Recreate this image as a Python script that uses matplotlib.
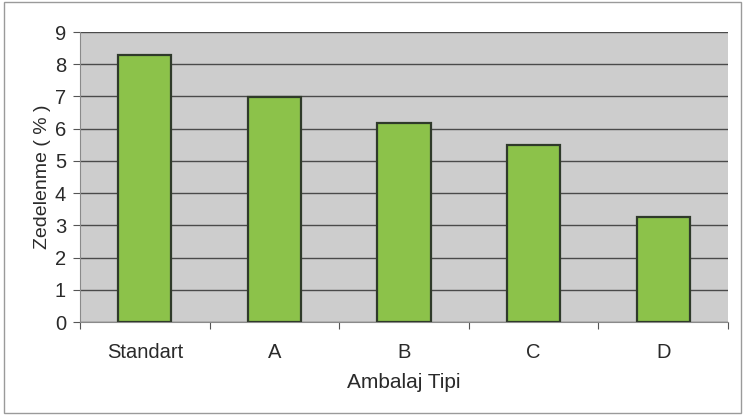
import matplotlib.pyplot as plt
import numpy as np
from matplotlib.patches import Rectangle

plt.rcParams['font.family'] = ['Liberation Sans', 'DejaVu Sans']

categories = ['Standart', 'A', 'B', 'C', 'D']
damage = [8.28, 6.98, 6.18, 5.5, 3.25]

fig = plt.figure(figsize=(7.44, 4.19), dpi=100)
ax = fig.add_axes([0.1075, 0.2315, 0.871, 0.692])

x = np.arange(len(categories))
ax.bar(x, damage, width=0.41, color='#8cc24a', edgecolor='#2f3a2a', linewidth=1.6, zorder=3)

ax.set_facecolor('#cdcdcd')
ax.set_xlim(-0.5, len(categories) - 0.5)
ax.set_ylim(0, 9)
ax.set_yticks(range(0, 10))
ax.yaxis.grid(True, color='#4a4a4a', linewidth=1.0, zorder=1)
ax.set_axisbelow(True)

# category ticks sit between the bars
ax.set_xticks(np.arange(-0.5, len(categories), 1.0))
ax.set_xticklabels([])
ax.set_xticks(x, minor=True)
ax.set_xticklabels(categories, minor=True, fontsize=14.5, color='#2a2a2a')
ax.tick_params(axis='x', which='minor', length=0, pad=15)
ax.tick_params(axis='x', which='major', length=5, color='#555555', direction='out')
ax.tick_params(axis='y', length=5, color='#555555', direction='out', labelsize=14.5,
               labelcolor='#2a2a2a', pad=5)

for side in ['top', 'right']:
    ax.spines[side].set_visible(False)
ax.spines['left'].set_color('#8a8a8a')
ax.spines['bottom'].set_color('#8a8a8a')

ax.set_ylabel('Zedelenme ( % )', fontsize=14, color='#2a2a2a', labelpad=3)
ax.set_xlabel('Ambalaj Tipi', fontsize=15, color='#2a2a2a', labelpad=8)

fig.patches.append(Rectangle((0.006, 0.015), 0.99, 0.98, transform=fig.transFigure,
                             fill=False, edgecolor='#9a9a9a', linewidth=1.0))

fig.savefig('out.png', dpi=100, facecolor='white')
